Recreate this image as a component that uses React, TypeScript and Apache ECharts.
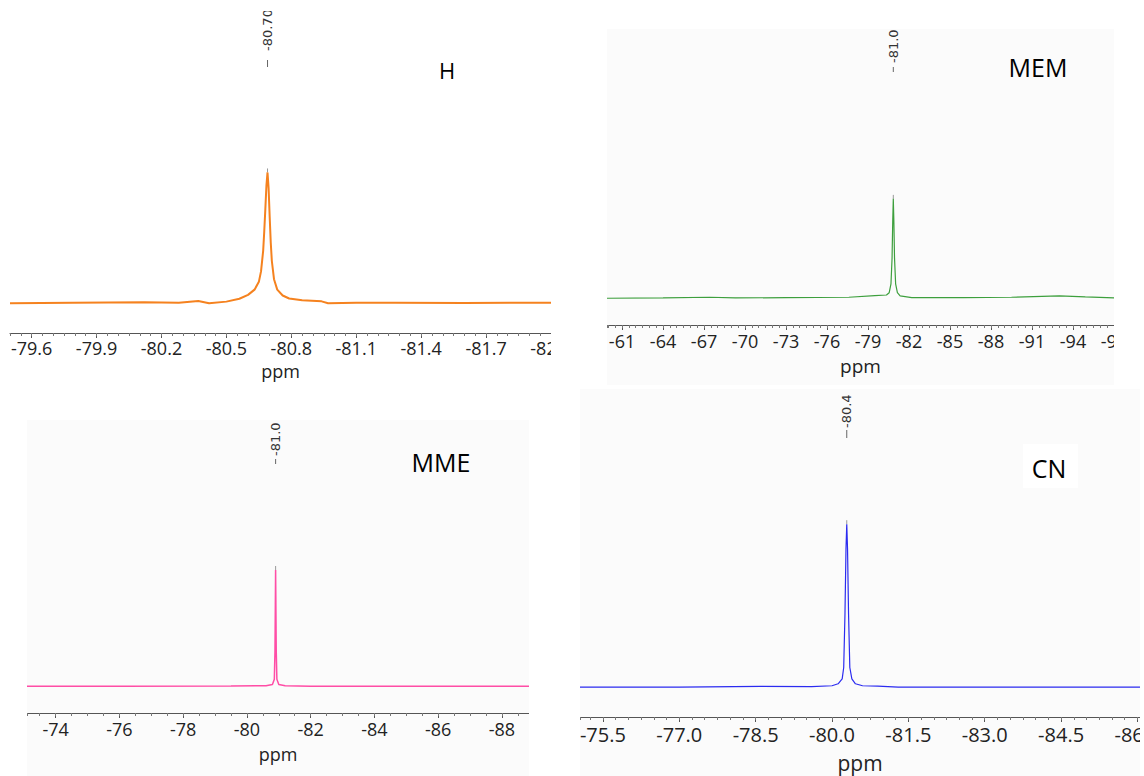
import React, { useEffect, useRef } from "react";
import * as echarts from "echarts";

// ---------- data ----------
// Panel H (orange)
const H_PPM = [-79.5, -79.79, -80.12, -80.28, -80.37, -80.42, -80.5, -80.56, -80.6, -80.63, -80.65, -80.66, -80.67, -80.675, -80.68, -80.685, -80.69, -80.695, -80.7, -80.705, -80.71, -80.72, -80.735, -80.76, -80.79, -80.85, -80.94, -80.97, -81.1, -81.28, -81.6, -82.0];
const H_INT = [-0.5, 0, 0.3, 0, 1.3, -0.5, 0.8, 3, 6, 10, 16, 24, 40, 55, 72, 90, 100, 88, 66, 46, 32, 18, 10, 5.5, 3.2, 1.8, 1.0, -0.5, 0, 0, -0.3, 0];
const H_TICKS = [-79.6, -79.9, -80.2, -80.5, -80.8, -81.1, -81.4, -81.7, -82.0];
const H_PEAK_PPM = [-80.69];
const H_PEAK_INT = [100];
const H_PEAK_LABEL = ["-80.70"];

// Panel MEM (green)
const MEM_PPM = [-59.9, -64.0, -67.4, -69.3, -73.0, -77.6, -79.5, -80.35, -80.55, -80.68, -80.76, -80.81, -80.85, -80.89, -80.94, -81.02, -81.15, -81.35, -82.2, -86.0, -89.5, -93.0, -94.9, -97.0];
const MEM_INT = [-0.6, -0.2, 0.4, -0.3, 0, 0.4, 2, 2.7, 5, 14, 40, 78, 100, 78, 40, 14, 5, 1.7, 0, 0, 0.4, 1.7, 0.7, -0.3];
const MEM_TICKS = [-61, -64, -67, -70, -73, -76, -79, -82, -85, -88, -91, -94, -97];
const MEM_PEAK_PPM = [-80.85];
const MEM_PEAK_INT = [100];
const MEM_PEAK_LABEL = ["-81.0"];

// Panel MME (pink)
const MME_PPM = [-73.1, -76.0, -79.5, -80.6, -80.8, -80.86, -80.88, -80.9, -80.92, -80.94, -81.0, -81.2, -82.0, -88.85];
const MME_INT = [0, 0, 0.2, 0.5, 1.5, 6, 30, 100, 30, 6, 1.5, 0.4, 0, 0];
const MME_TICKS = [-74, -76, -78, -80, -82, -84, -86, -88];
const MME_PEAK_PPM = [-80.9];
const MME_PEAK_INT = [100];
const MME_PEAK_LABEL = ["-81.0"];

// Panel CN (blue)
const CN_PPM = [-75.05, -77.0, -78.6, -79.6, -80.0, -80.12, -80.2, -80.23, -80.255, -80.275, -80.29, -80.305, -80.325, -80.35, -80.39, -80.46, -80.6, -80.9, -81.3, -83.0, -86.05];
const CN_INT = [0, 0, 0.4, 0.3, 0.8, 2, 5, 12, 45, 85, 100, 85, 45, 12, 5, 2, 0.8, 0.5, 0, 0, 0];
const CN_TICKS = [-75.5, -77.0, -78.5, -80.0, -81.5, -83.0, -84.5, -86.0];
const CN_PEAK_PPM = [-80.29];
const CN_PEAK_INT = [100];
const CN_PEAK_LABEL = ["-80.4"];

const FONT = '"Open Sans", "Noto Sans", sans-serif';

type Panel = {
  name: string;
  pos: { left: number; top: number; width: number; height: number };
  bg: string;
  grid: { left: number; right: number; top: number; bottom: number };
  xMin: number;
  xMax: number;
  ticks: number[];
  decimals: number;
  minorStep: number;
  labelSize: number;
  labelMargin: number;
  nameSize: number;
  nameGap: number;
  yMin: number;
  yMax: number;
  color: string;
  width: number;
  ppm: number[];
  inten: number[];
  peakPpm: number[];
  peakInt: number[];
  peakLabel: string[];
  labelBottom: number;
  dash: [number, number];
  title: { text: string; x: number; y: number; size: number };
  titleBox?: { x: number; y: number; w: number; h: number };
};

const PANELS: Panel[] = [
  {
    name: "H",
    pos: { left: 0, top: 11, width: 551, height: 379 },
    bg: "#ffffff",
    grid: { left: 10, right: 0, top: 0, bottom: 57 },
    xMin: -82.0, xMax: -79.5, ticks: H_TICKS, decimals: 1, minorStep: 0.05,
    labelSize: 18, labelMargin: 6, nameSize: 18, nameGap: 28,
    yMin: -23.3, yMax: 224,
    color: "#f5821f", width: 2,
    ppm: H_PPM, inten: H_INT,
    peakPpm: H_PEAK_PPM, peakInt: H_PEAK_INT, peakLabel: H_PEAK_LABEL,
    labelBottom: 40, dash: [49, 56],
    title: { text: "H", x: 447, y: 59, size: 22 },
  },
  {
    name: "MEM",
    pos: { left: 607, top: 29, width: 507, height: 356 },
    bg: "#fbfbfb",
    grid: { left: 0, right: 0, top: 0, bottom: 60 },
    xMin: -97, xMax: -59.9, ticks: MEM_TICKS, decimals: 0, minorStep: 0.5,
    labelSize: 18, labelMargin: 7, nameSize: 19, nameGap: 31,
    yMin: -27.7, yMax: 272,
    color: "#3d9f3d", width: 1.2,
    ppm: MEM_PPM, inten: MEM_INT,
    peakPpm: MEM_PEAK_PPM, peakInt: MEM_PEAK_INT, peakLabel: MEM_PEAK_LABEL,
    labelBottom: 34, dash: [38, 43],
    title: { text: "MEM", x: 431, y: 38, size: 25 },
  },
  {
    name: "MME",
    pos: { left: 27, top: 420, width: 502, height: 356 },
    bg: "#fbfbfb",
    grid: { left: 0, right: 0, top: 0, bottom: 63 },
    xMin: -88.85, xMax: -73.1, ticks: MME_TICKS, decimals: 0, minorStep: 0.5,
    labelSize: 18, labelMargin: 7, nameSize: 18, nameGap: 32,
    yMin: -23, yMax: 229,
    color: "#ff4da6", width: 1.5,
    ppm: MME_PPM, inten: MME_INT,
    peakPpm: MME_PEAK_PPM, peakInt: MME_PEAK_INT, peakLabel: MME_PEAK_LABEL,
    labelBottom: 36, dash: [39, 44],
    title: { text: "MME", x: 414, y: 42, size: 25 },
  },
  {
    name: "CN",
    pos: { left: 580, top: 389, width: 560, height: 387 },
    bg: "#fbfbfb",
    grid: { left: 0, right: 0, top: 0, bottom: 59 },
    xMin: -86.05, xMax: -75.05, ticks: CN_TICKS, decimals: 1, minorStep: 0.25,
    labelSize: 20, labelMargin: 7, nameSize: 21, nameGap: 35,
    yMin: -18.4, yMax: 183,
    color: "#2b2bf0", width: 1.2,
    ppm: CN_PPM, inten: CN_INT,
    peakPpm: CN_PEAK_PPM, peakInt: CN_PEAK_INT, peakLabel: CN_PEAK_LABEL,
    labelBottom: 39, dash: [41, 49],
    title: { text: "CN", x: 469, y: 79, size: 25 },
    titleBox: { x: 443, y: 55, w: 55, h: 44 },
  },
];

function zip(a: number[], b: number[]) {
  return a.map((v, i) => [v, b[i]]);
}

function buildOption(p: Panel) {
  const graphic: any[] = [];
  if (p.titleBox) {
    graphic.push({
      type: "rect",
      x: p.titleBox.x,
      y: p.titleBox.y,
      shape: { x: 0, y: 0, width: p.titleBox.w, height: p.titleBox.h },
      style: { fill: "#ffffff" },
      z: 9,
    });
  }
  graphic.push({
    type: "text",
    x: p.title.x,
    y: p.title.y,
    z: 10,
    style: {
      text: p.title.text,
      font: `${p.title.size}px ${FONT}`,
      fill: "#000000",
      textAlign: "center",
      textVerticalAlign: "middle",
    },
  });

  return {
    animation: false,
    backgroundColor: p.bg,
    grid: { ...p.grid, containLabel: false, outerBoundsMode: "none" },
    xAxis: [
      {
        type: "value",
        gridIndex: 0,
        position: "bottom",
        inverse: true,
        min: p.xMin,
        max: p.xMax,
        name: "ppm",
        nameLocation: "middle",
        nameGap: p.nameGap,
        nameTextStyle: { color: "#222", fontSize: p.nameSize, fontFamily: FONT },
        axisLine: { show: true, onZero: false, lineStyle: { color: "#555", width: 1 } },
        axisTick: { show: true, length: 5, customValues: p.ticks, lineStyle: { color: "#555" } },
        axisLabel: {
          customValues: p.ticks,
          formatter: (v: number) => v.toFixed(p.decimals),
          color: "#222",
          fontSize: p.labelSize,
          fontFamily: FONT,
          margin: p.labelMargin,
        },
        splitLine: { show: false },
      },
      {
        type: "value",
        gridIndex: 0,
        position: "bottom",
        inverse: true,
        min: p.xMin,
        max: p.xMax,
        minInterval: p.minorStep,
        maxInterval: p.minorStep,
        axisLine: { show: false, onZero: false },
        axisTick: { show: true, length: 3, lineStyle: { color: "#777" } },
        axisLabel: { show: false },
        splitLine: { show: false },
      },
    ],
    yAxis: { type: "value", min: p.yMin, max: p.yMax, show: false },
    series: [
      {
        type: "line",
        xAxisIndex: 0,
        yAxisIndex: 0,
        data: zip(p.ppm, p.inten),
        showSymbol: false,
        symbol: "none",
        lineStyle: { color: p.color, width: p.width },
        itemStyle: { color: p.color },
        silent: true,
      },
      {
        type: "custom",
        xAxisIndex: 0,
        yAxisIndex: 0,
        data: zip(p.peakPpm, p.peakInt),
        silent: true,
        clip: false,
        renderItem: (params: any, api: any) => {
          const pt = api.coord([api.value(0), api.value(1)]);
          const top = params.coordSys.y;
          return {
            type: "group",
            children: [
              {
                type: "text",
                x: pt[0],
                y: top + p.labelBottom,
                rotation: Math.PI / 2,
                style: {
                  text: p.peakLabel[params.dataIndex],
                  font: '13px "DejaVu Sans", sans-serif',
                  fill: "#333",
                  textAlign: "left",
                  textVerticalAlign: "middle",
                },
              },
              {
                type: "line",
                shape: { x1: pt[0], y1: top + p.dash[0], x2: pt[0], y2: top + p.dash[1] },
                style: { stroke: "#666", lineWidth: 1 },
              },
              {
                type: "line",
                shape: { x1: pt[0], y1: pt[1] - 4, x2: pt[0], y2: pt[1] },
                style: { stroke: "#999", lineWidth: 1 },
              },
            ],
          };
        },
      },
    ],
    graphic,
  };
}

function PanelChart({ p }: { p: Panel }) {
  const ref = useRef<HTMLDivElement>(null);
  useEffect(() => {
    if (!ref.current) return;
    const chart = echarts.init(ref.current, undefined, { renderer: "svg" });
    chart.setOption(buildOption(p) as any);
    return () => chart.dispose();
  }, [p]);
  return (
    <div
      ref={ref}
      style={{
        position: "absolute",
        left: p.pos.left,
        top: p.pos.top,
        width: p.pos.width,
        height: p.pos.height,
        overflow: "hidden",
      }}
    />
  );
}

export default function App() {
  return (
    <div
      style={{
        position: "fixed",
        left: 0,
        top: 0,
        width: 1144,
        height: 776,
        background: "#ffffff",
        overflow: "hidden",
      }}
    >
      {PANELS.map((p) => (
        <PanelChart key={p.name} p={p} />
      ))}
    </div>
  );
}
